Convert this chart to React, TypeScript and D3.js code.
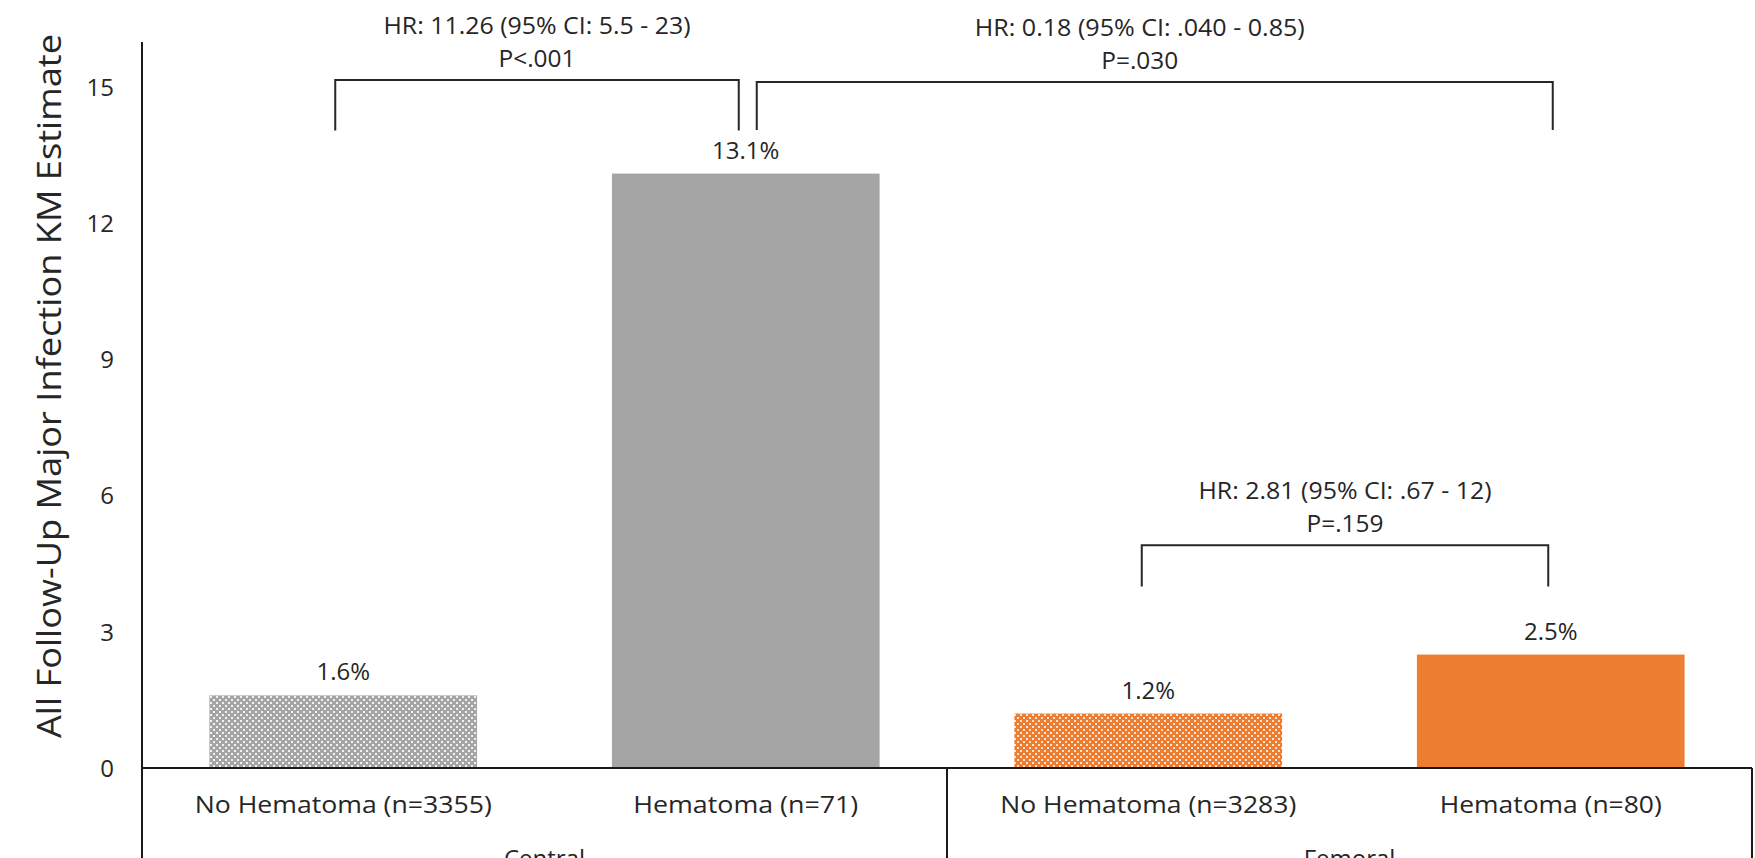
import React from "react";
import * as d3 from "d3";

// ---- data ----
const groups = ["Central", "Femoral"];
const categories = [
  "No Hematoma (n=3355)",
  "Hematoma (n=71)",
  "No Hematoma (n=3283)",
  "Hematoma (n=80)",
];
const categoryGroup = [0, 0, 1, 1];
const values = [1.6, 13.1, 1.2, 2.5];
const valueLabels = ["1.6%", "13.1%", "1.2%", "2.5%"];
const yTicks = [0, 3, 6, 9, 12, 15];
const yTitle = "All Follow-Up Major Infection KM Estimate";
const hrTexts = [
  "HR: 11.26 (95% CI: 5.5 - 23)",
  "HR: 0.18 (95% CI: .040 - 0.85)",
  "HR: 2.81 (95% CI: .67 - 12)",
];
const pTexts = ["P<.001", "P=.030", "P=.159"];
const compareFrom = [0, 1, 2];
const compareTo = [1, 3, 3];

// ---- layout / style ----
const W = 1755;
const H = 858;
const M = { left: 142, right: 1752, top: 42, base: 768 };
const bracketTop = [15.16, 15.12, 4.91];
const bracketBottom = [14.05, 14.06, 4.0];
const bracketOffL = [-8, 11, -6.5];
const bracketOffR = [-7, 2, -2.5];
const hrWidths = [307, 330, 293];
const pWidths = [77, 77, 77];
const catWidths = [297, 225, 296, 222];
const FONT = "'Open Sans', 'Liberation Sans', sans-serif";
const barFill = ["url(#patGray)", "#A5A5A5", "url(#patOrange)", "#ED7D31"];

export default function App() {
  const x = d3
    .scaleBand<number>()
    .domain(categories.map((_, i) => i))
    .range([M.left, M.right])
    .paddingInner(0)
    .paddingOuter(0);
  const y = d3.scaleLinear().domain([0, 16]).range([M.base, M.top]);
  const bw = x.bandwidth();
  const barW = bw * 0.665;
  const cx = (i: number) => (x(i) as number) + bw / 2;

  const groupExtent = groups.map((_, g) => {
    const idx = categories.map((_, i) => i).filter((i) => categoryGroup[i] === g);
    const x0 = x(idx[0]) as number;
    const x1 = (x(idx[idx.length - 1]) as number) + bw;
    return [x0, x1];
  });

  return (
    <svg
      width={W}
      height={H}
      style={{ position: "absolute", left: 0, top: 0, background: "#fff" }}
      fontFamily={FONT}
    >
      <defs>
        <pattern id="patGray" width={6} height={6} patternUnits="userSpaceOnUse">
          <rect width={6} height={6} fill="#A5A5A5" />
          <rect x={0} y={0} width={2} height={2} fill="#F2F2F2" />
          <rect x={3} y={3} width={2} height={2} fill="#F2F2F2" />
        </pattern>
        <pattern id="patOrange" width={6} height={6} patternUnits="userSpaceOnUse">
          <rect width={6} height={6} fill="#ED7D31" />
          <rect x={0} y={0} width={2} height={2} fill="#FCE3D2" />
          <rect x={3} y={3} width={2} height={2} fill="#FCE3D2" />
        </pattern>
      </defs>
      <rect width={W} height={H} fill="#fff" />

      {/* bars */}
      {values.map((v, i) => (
        <rect
          key={"b" + i}
          x={cx(i) - barW / 2}
          y={y(v)}
          width={barW}
          height={y(0) - y(v)}
          fill={barFill[i]}
        />
      ))}

      {/* value labels */}
      {values.map((v, i) => (
        <text
          key={"v" + i}
          x={cx(i)}
          y={y(v) - 15}
          textAnchor="middle"
          fontSize={24}
          fill="#262626"
        >
          {valueLabels[i]}
        </text>
      ))}

      {/* axes */}
      <line x1={M.left} x2={M.left} y1={M.top} y2={H} stroke="#1a1a1a" strokeWidth={2} />
      <line x1={M.left} x2={M.right} y1={y(0)} y2={y(0)} stroke="#1a1a1a" strokeWidth={2} />
      {groupExtent.map((e, g) => (
        <line
          key={"gl" + g}
          x1={e[1]}
          x2={e[1]}
          y1={y(0)}
          y2={H}
          stroke="#1a1a1a"
          strokeWidth={2}
        />
      ))}

      {yTicks.map((t) => (
        <text
          key={"t" + t}
          x={114}
          y={y(t)}
          dy="0.36em"
          textAnchor="end"
          fontSize={24}
          fill="#262626"
        >
          {t}
        </text>
      ))}

      <text
        transform={`translate(61, ${(M.top + M.base) / 2 - 19}) rotate(-90)`}
        textAnchor="middle"
        fontSize={33}
        fill="#262626"
        textLength={704}
        lengthAdjust="spacingAndGlyphs"
      >
        {yTitle}
      </text>

      {/* category labels */}
      {categories.map((c, i) => (
        <text
          key={"c" + i}
          x={cx(i)}
          y={813}
          textAnchor="middle"
          fontSize={24}
          fill="#262626"
          textLength={catWidths[i]}
          lengthAdjust="spacingAndGlyphs"
        >
          {c}
        </text>
      ))}
      {groups.map((g, gi) => (
        <text
          key={"g" + gi}
          x={(groupExtent[gi][0] + groupExtent[gi][1]) / 2}
          y={867}
          textAnchor="middle"
          fontSize={24}
          fill="#262626"
        >
          {g}
        </text>
      ))}

      {/* comparison brackets */}
      {hrTexts.map((hr, k) => {
        const xl = cx(compareFrom[k]) + bracketOffL[k];
        const xr = cx(compareTo[k]) + bracketOffR[k];
        const yt = y(bracketTop[k]);
        const yb = y(bracketBottom[k]);
        const mid = (xl + xr) / 2 + (k === 1 ? -15 : 0);
        return (
          <g key={"cmp" + k}>
            <path
              d={`M${xl},${yb}V${yt}H${xr}V${yb}`}
              fill="none"
              stroke="#262626"
              strokeWidth={2}
            />
            <text
              x={mid}
              y={yt - 46}
              textAnchor="middle"
              fontSize={24}
              fill="#262626"
              textLength={hrWidths[k]}
              lengthAdjust="spacingAndGlyphs"
            >
              {hr}
            </text>
            <text
              x={mid}
              y={yt - 13}
              textAnchor="middle"
              fontSize={24}
              fill="#262626"
              textLength={pWidths[k]}
              lengthAdjust="spacingAndGlyphs"
            >
              {pTexts[k]}
            </text>
          </g>
        );
      })}
    </svg>
  );
}
